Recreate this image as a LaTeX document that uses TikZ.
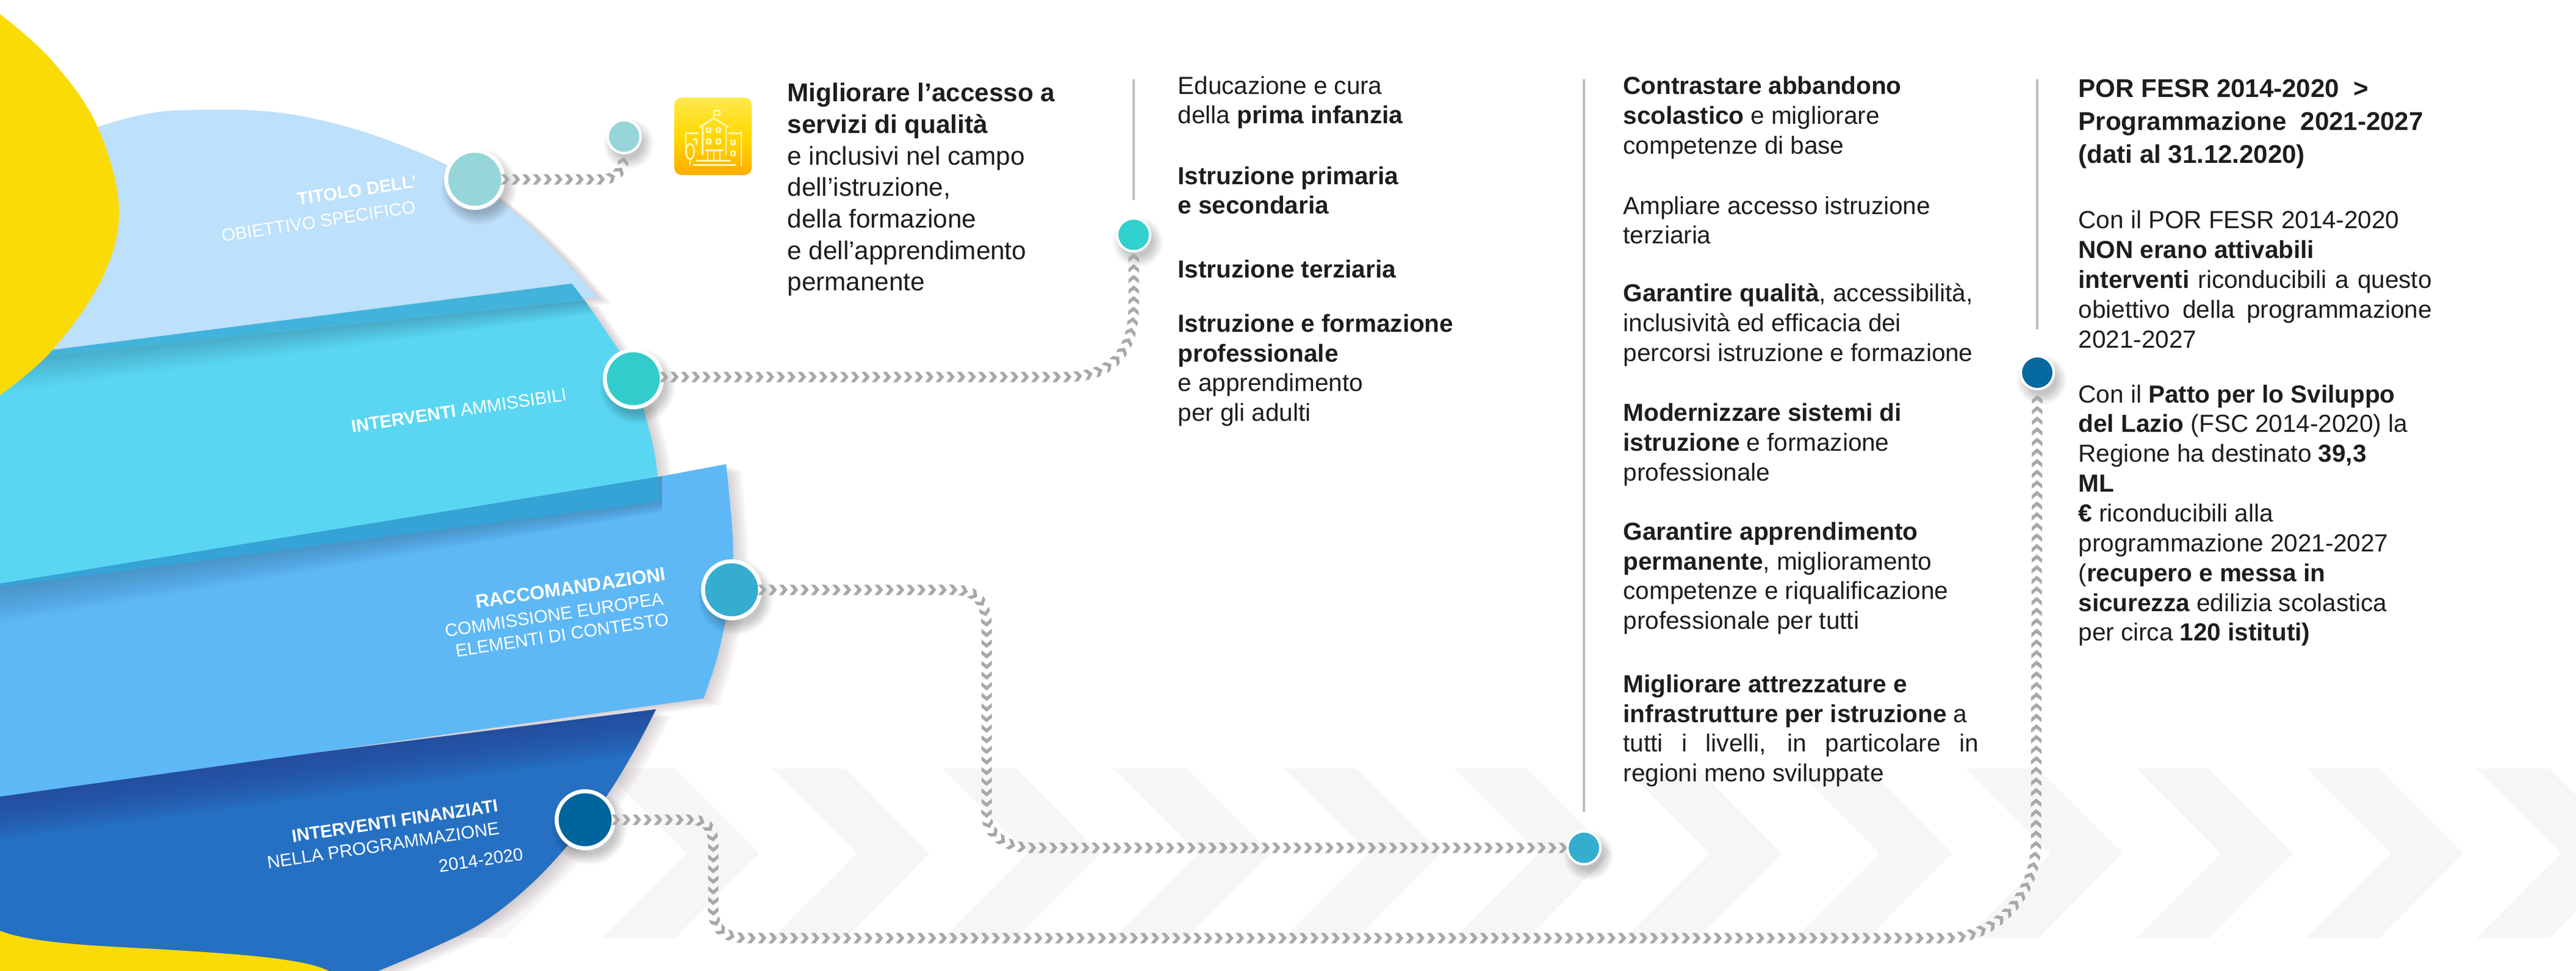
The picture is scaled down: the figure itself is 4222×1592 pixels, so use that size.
\documentclass[tikz,border=0pt]{standalone}
\usepackage{fontspec}
\setmainfont{Liberation Sans}
\usetikzlibrary{decorations.markings}
\definecolor{chevbg}{HTML}{F6F6F6}
\definecolor{chevcol}{HTML}{A8A8A8}
\definecolor{yel}{HTML}{FBDB05}
\definecolor{bandOne}{HTML}{BDE0FB}
\definecolor{bandTwo}{HTML}{5AD6F2}
\definecolor{bandThree}{HTML}{5EB8F5}
\definecolor{bandFour}{HTML}{2570C2}
\definecolor{bandFourDark}{HTML}{24479A}
\definecolor{foldOne}{HTML}{42B4DC}
\definecolor{foldTwo}{HTML}{35A3D6}
\definecolor{txt}{HTML}{1D1D1B}
\definecolor{divider}{HTML}{BEBEBE}
\definecolor{iconline}{HTML}{FFF6B8}
\definecolor{mauve}{HTML}{3A2530}
\tikzset{
  bandA/.style={insert path={plot[smooth,tension=.6] coordinates{(100,240)(158,209)(250,185)(332,180)(415,181)(497,191)(605,219)(730,270)(829,337)(912,413)(978,487)} -- (83,600) -- (0,600) -- (0,240) -- cycle}},
  bandB/.style={insert path={plot[smooth,tension=.6] coordinates{(958,492)(1012,571)(1036,612)(1060,690)(1074,750)(1082,822)} -- (0,962) -- (0,570) -- (70,584) -- cycle}},
  bandC/.style={insert path={(1190,761) -- (1078,782) -- (0,957) -- (0,1306) -- (1153,1145) -- plot[smooth,tension=.6] coordinates{(1153,1145)(1177,1072)(1198,965)(1201,884)(1190,761)} -- cycle}},
  bandD/.style={insert path={(1075,1163) -- (0,1300) -- (0,1600) -- (600,1600) -- plot[smooth,tension=.6] coordinates{(600,1600)(700,1558)(790,1513)(870,1450)(940,1375)(993,1307)(1040,1230)(1075,1163)} -- cycle}},
  chevpath/.style={decoration={markings,mark=between positions 0 and 1 step 1.74mm with {\fill[chevcol] (-7,-8.5) -- (0,-8.5) -- (7,0) -- (0,8.5) -- (-7,8.5) -- (0,0) -- cycle;}},postaction={decorate}},
  bigdot/.style={circle,draw=white,line width=.65mm,minimum size=9.35mm,inner sep=0pt},
  smalldot/.style={circle,draw=white,line width=.4mm,minimum size=5.4mm,inner sep=0pt},
  dividerline/.style={draw=divider,line width=.4mm},
  para/.style={anchor=west,inner sep=0pt,align=left,text=txt,font=\fontsize{11.5}{13.9}\selectfont},
  parabig/.style={anchor=west,inner sep=0pt,align=left,text=txt,font=\fontsize{12}{14.7}\selectfont},
  parahead/.style={anchor=west,inner sep=0pt,align=left,text=txt,font=\fontsize{11.95}{15.4}\selectfont\bfseries},
  lab/.style={text=white,rotate=8.5,inner sep=0pt,font=\fontsize{8.3}{9}\selectfont},
  labb/.style={lab,font=\fontsize{8.3}{9}\selectfont\bfseries},
  ico/.style={draw=iconline,line width=.28mm,line cap=round,line join=round},
}
\newcommand{\dropshadow}[3]{\foreach \r in {0,2,...,18}{\fill[black,opacity=.022,shift={(#1,#2)}] (7,12) circle ({#3+\r-6});}}
\begin{document}
\begin{tikzpicture}[x=.1mm,y=-.1mm]
\useasboundingbox (0,0) rectangle (4222,1592);
\clip (0,0) rectangle (4222,1592);
\fill[white] (0,0) rectangle (4222,1592);
% background chevrons
\foreach \k in {0,...,12}{
  \fill[chevbg,shift={(708+279.3*\k,0)}] (0,1260) -- (119,1260) -- (257,1399) -- (119,1538) -- (0,1538) -- (139,1399) -- cycle;
}
% soft shadow of the disc
\foreach \i in {2,4,...,26}{
  \fill[mauve,opacity=.016,shift={(\i,\i*.45)},bandA];
  \fill[mauve,opacity=.016,shift={(\i,\i*.45)},bandB];
  \fill[mauve,opacity=.016,shift={(\i,\i*.45)},bandC];
  \fill[mauve,opacity=.016,shift={(\i,\i*.45)},bandD];
}
% bands
\fill[bandOne,bandA];
\fill[bandTwo,bandB];
\begin{scope}
  \path[clip,bandB];
  \foreach \i in {4,8,...,60}{\fill[black,opacity=.012] (0,570) -- (1100,450) -- (1100,480+\i*.3) -- (0,584+\i) -- cycle;}
\end{scope}
\fill[foldOne] (83,574) -- (937,465) -- (958,492) -- (70,584) -- cycle;
\fill[bandFour,bandD];
\begin{scope}
  \path[clip,bandD];
  \foreach \i in {5,10,...,70}{\fill[bandFourDark,opacity=.09] (0,1290) -- (1200,1130) -- (1200,1146+\i) -- (0,1306+\i) -- cycle;}
\end{scope}
\fill[bandThree,bandC];
\begin{scope}
  \path[clip,bandC];
  \foreach \i in {4,8,...,60}{\fill[black,opacity=.01] (0,950) -- (1085,770) -- (1085,822+\i*.3) -- (0,962+\i) -- cycle;}
\end{scope}
\fill[foldTwo] (0,957) -- (1078,782) -- (1082,822) -- (0,962) -- cycle;
% yellow shapes
\fill[yel] plot[smooth,tension=.6] coordinates{(0,23)(83,97)(158,204)(195,342)(166,459)(83,577)(0,648)} -- cycle;
\fill[yel] (0,1526) .. controls (60,1550) and (200,1552) .. (290,1558) .. controls (400,1565) and (500,1572) .. (539,1592) -- (0,1592) -- cycle;
% band labels
\node[labb] (l1a) at (585,312) {TITOLO DELL’};
\node[lab] (l1b) at (522,363) {OBIETTIVO SPECIFICO};
\node[lab] (l2) at (752,673) {\textbf{INTERVENTI} AMMISSIBILI};
\node[labb,font=\fontsize{8.9}{9}\selectfont\bfseries] (l3a) at (935,964) {RACCOMANDAZIONI};
\node[lab] (l3b) at (908,1008) {COMMISSIONE EUROPEA};
\node[lab] (l3c) at (921,1041) {ELEMENTI DI CONTESTO};
\node[labb] (l4a) at (647,1346) {INTERVENTI FINANZIATI};
\node[lab] (l4b) at (628,1386) {NELLA PROGRAMMAZIONE};
\node[lab] (l4c) at (788,1410) {2014-2020};
% dividers
\coordinate (d1a) at (1858,130); \coordinate (d1b) at (1858,328);
\coordinate (d2a) at (2596,130); \coordinate (d2b) at (2596,1331);
\coordinate (d3a) at (3339,130); \coordinate (d3b) at (3339,540);
\draw[dividerline] (d1a) -- (d1b);
\draw[dividerline] (d2a) -- (d2b);
\draw[dividerline] (d3a) -- (d3b);
% node shadows
\dropshadow{778}{294}{50}
\dropshadow{1038}{621}{50}
\dropshadow{1199}{967}{50}
\dropshadow{959}{1344}{50}
\dropshadow{1023}{224}{29}
\dropshadow{1858}{385}{29}
\dropshadow{2596}{1390}{29}
\dropshadow{3339}{611}{29}
% dots
\node[bigdot,fill={rgb,255:red,150;green,213;blue,216}] (n1) at (778,294) {};
\node[bigdot,fill={rgb,255:red,51;green,204;blue,204}] (n2) at (1038,621) {};
\node[bigdot,fill={rgb,255:red,53;green,173;blue,206}] (n3) at (1199,967) {};
\node[bigdot,fill={rgb,255:red,0;green,100;blue,156}] (n4) at (959,1344) {};
\node[smalldot,fill={rgb,255:red,150;green,213;blue,216}] (s1) at (1023,224) {};
\node[smalldot,fill={rgb,255:red,51;green,208;blue,208}] (s2) at (1858,385) {};
\node[smalldot,fill={rgb,255:red,53;green,173;blue,206}] (s3) at (2596,1390) {};
\node[smalldot,fill={rgb,255:red,5;green,105;blue,160}] (s4) at (3339,611) {};
% connectors
\path[chevpath] (n1.east) -- (985,294) .. controls (1010,294) and (1022,280) .. (s1.south);
\path[chevpath] ([yshift=.3mm]n2.east) -- (1745,618) .. controls (1830,618) and (1858,570) .. (1858,500) -- (s2.south);
\path[chevpath] (n3.east) -- (1560,967) .. controls (1600,967) and (1617,985) .. (1617,1030) -- (1617,1333) .. controls (1617,1370) and (1650,1390) .. (1691,1390) -- (s3.west);
\path[chevpath] (n4.east) -- (1130,1344) .. controls (1155,1344) and (1169,1355) .. (1169,1385) -- (1169,1490) .. controls (1169,1525) and (1190,1538) .. (1225,1538) -- (3190,1538) .. controls (3270,1538) and (3337,1470) .. (3337,1380) -- (s4.south);
% icon
\node[rounded corners=1.2mm,minimum size=12.7mm,inner sep=0pt,top color=yellow!75!orange!70!white,bottom color=orange!65!yellow,middle color=yellow!70!orange] (icon) at (1168.5,223.5) {};
\begin{scope}[shift={(950,120)},xscale=.3333,yscale=.3333]
  \draw[ico] (660,222) -- (660,185) -- (690,185) -- (690,205) -- (660,205);
  \draw[ico] (590,265) -- (660,222) -- (730,265);
  \draw[ico] (605,265) -- (605,400) (720,265) -- (720,400);
  \foreach \wx/\wy in {635/280,683/280,635/336,683/336,755/340,755/395}{\draw[ico] (\wx-9,\wy-10) rectangle (\wx+9,\wy+10);}
  \draw[ico] (620,380) -- (705,380) (630,380) -- (630,430) (660,380) -- (660,430) (690,380) -- (690,430);
  \draw[ico] (575,430) -- (740,430) (560,452) -- (765,452);
  \draw[ico] (522,400) -- (522,295) -- (582,295) (735,295) -- (795,295) (795,285) -- (795,455);
  \draw[ico] (558,325) -- (575,325) -- (575,350);
  \draw[ico] (543,385) ellipse (20 and 38);
  \draw[ico] (543,420) -- (543,450);
\end{scope}
% text column 1
\node[parabig] (t1) at (1290,311) {\textbf{Migliorare l’accesso a}\\\textbf{servizi di qualità}\\e inclusivi nel campo\\dell’istruzione,\\della formazione\\e dell’apprendimento\\permanente};
% text column 2
\node[para] (t2a) at (1930,168) {Educazione e cura\\della \textbf{prima infanzia}};
\node[para] (t2b) at (1930,312) {\textbf{Istruzione primaria}\\\textbf{e secondaria}};
\node[para] (t2c) at (1930,441) {\textbf{Istruzione terziaria}};
\node[para] (t2d) at (1930,607) {\textbf{Istruzione e formazione}\\\textbf{professionale}\\e apprendimento\\per gli adulti};
% text column 3
\node[para] (t3a) at (2660,193) {\textbf{Contrastare abbandono}\\\textbf{scolastico} e migliorare\\competenze di base};
\node[para] (t3b) at (2660,361) {Ampliare accesso istruzione\\terziaria};
\node[para] (t3c) at (2660,533) {\textbf{Garantire qualità}, accessibilità,\\inclusività ed efficacia dei\\percorsi istruzione e formazione};
\node[para] (t3d) at (2660,729) {\textbf{Modernizzare sistemi di}\\\textbf{istruzione} e formazione\\professionale};
\node[para] (t3e) at (2660,948) {\textbf{Garantire apprendimento}\\\textbf{permanente}, miglioramento\\competenze e riqualificazione\\professionale per tutti};
\node[para] (t3f) at (2660,1198) {\textbf{Migliorare attrezzature e}\\\textbf{infrastrutture per istruzione} a\\\makebox[58.2mm][s]{tutti i livelli, in particolare in}\\regioni meno sviluppate};
% text column 4
\node[parahead] (t4a) at (3406,203) {POR FESR 2014-2020 \ >\\Programmazione \ 2021-2027\\(dati al 31.12.2020)};
\node[para] (t4b) at (3406,458) {Con il POR FESR 2014-2020\\\textbf{NON erano attivabili}\\\makebox[57.9mm][s]{\textbf{interventi} riconducibili a questo}\\\makebox[57.9mm][s]{obiettivo della programmazione}\\2021-2027};
\node[para] (t4c) at (3406,845) {Con il \textbf{Patto per lo Sviluppo}\\\textbf{del Lazio} (FSC 2014-2020) la\\Regione ha destinato \textbf{39,3}\\\textbf{ML}\\\textbf{€} riconducibili alla\\programmazione 2021-2027\\(\textbf{recupero e messa in}\\\textbf{sicurezza} edilizia scolastica\\per circa \textbf{120 istituti)}};
\end{tikzpicture}
\end{document}
